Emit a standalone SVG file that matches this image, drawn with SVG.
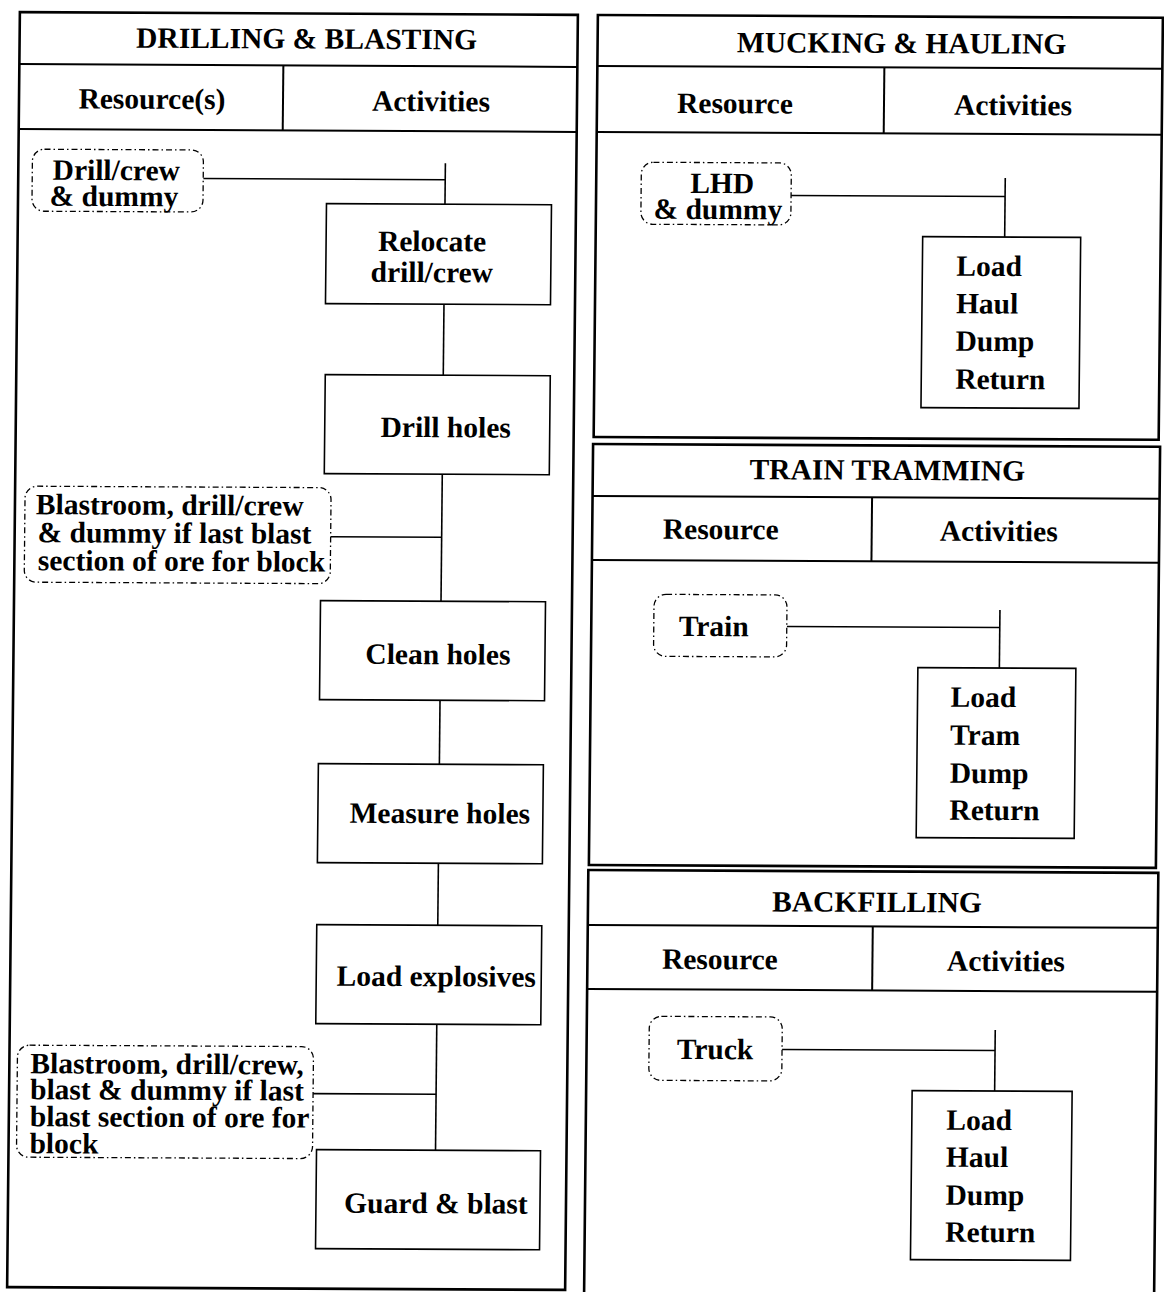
<svg xmlns="http://www.w3.org/2000/svg" width="1164" height="1292" viewBox="0 0 1164 1292">
  <style>
    .panel { fill: none; stroke: #000; stroke-width: 2.6; }
    .rule { fill: none; stroke: #000; stroke-width: 2; }
    .box { fill: #fff; stroke: #000; stroke-width: 1.6; }
    .res { fill: #fff; stroke: #000; stroke-width: 1.3; stroke-dasharray: 6 3 1.5 3; }
    .wire { fill: none; stroke: #000; stroke-width: 1.6; }
    text { font-family: "Liberation Serif", "Times New Roman", serif; font-weight: bold; font-size: 29.5px; fill: #000; }
    .c { text-anchor: middle; }
  </style>
  <rect width="1164" height="1292" fill="#fff"/>
  <!-- whole sheet sits slightly askew -->
  <g transform="matrix(1 0.005 -0.01 1 0 0)">

    <!-- ===== Drilling & blasting panel ===== -->
    <g id="panel-drilling">
      <rect class="panel" x="20" y="12" width="558" height="1275"/>
      <line class="rule" x1="20" y1="64" x2="578" y2="64"/>
      <line class="rule" x1="20" y1="129" x2="578" y2="129"/>
      <line class="rule" x1="284" y1="64" x2="284" y2="129"/>
      <text class="c" x="307" y="47">DRILLING &amp; BLASTING</text>
      <text class="c" x="153" y="108">Resource(s)</text>
      <text class="c" x="432" y="109">Activities</text>
    </g>

    <!-- ===== Mucking & hauling panel ===== -->
    <g id="panel-mucking">
      <rect class="panel" x="598" y="12" width="565" height="422"/>
      <line class="rule" x1="598" y1="63" x2="1163" y2="63"/>
      <line class="rule" x1="598" y1="129" x2="1163" y2="129"/>
      <line class="rule" x1="885" y1="63" x2="885" y2="129"/>
      <text class="c" x="902" y="48.5">MUCKING &amp; HAULING</text>
      <text class="c" x="736" y="109.5">Resource</text>
      <text class="c" x="1014" y="110">Activities</text>
    </g>

    <!-- ===== Train tramming panel ===== -->
    <g id="panel-tramming">
      <rect class="panel" x="597.5" y="441" width="567" height="421"/>
      <line class="rule" x1="597.5" y1="493" x2="1164.5" y2="493"/>
      <line class="rule" x1="597.5" y1="557" x2="1164.5" y2="557"/>
      <line class="rule" x1="877" y1="493" x2="877" y2="557"/>
      <text class="c" x="892" y="475.5">TRAIN TRAMMING</text>
      <text class="c" x="726" y="535.5">Resource</text>
      <text class="c" x="1004" y="536">Activities</text>
    </g>

    <!-- ===== Backfilling panel ===== -->
    <g id="panel-backfilling">
      <rect class="panel" x="597" y="867" width="570" height="460"/>
      <line class="rule" x1="597" y1="922" x2="1167" y2="922"/>
      <line class="rule" x1="597" y1="986" x2="1167" y2="986"/>
      <line class="rule" x1="882" y1="922" x2="882" y2="986"/>
      <text class="c" x="886" y="907.5">BACKFILLING</text>
      <text class="c" x="729.5" y="965.5">Resource</text>
      <text class="c" x="1015.5" y="966">Activities</text>
    </g>

    <!-- ===== Connectors ===== -->
    <g id="connectors">
      <!-- drilling chain -->
      <line class="wire" x1="205" y1="177.5" x2="447" y2="177.5"/>
      <line class="wire" x1="447" y1="161" x2="447" y2="202"/>
      <line class="wire" x1="447" y1="302" x2="447" y2="373"/>
      <line class="wire" x1="447" y1="472" x2="447" y2="599"/>
      <line class="wire" x1="336" y1="535" x2="447" y2="535"/>
      <line class="wire" x1="447" y1="698" x2="447" y2="762"/>
      <line class="wire" x1="447" y1="861" x2="447" y2="923"/>
      <line class="wire" x1="447" y1="1022" x2="447" y2="1148"/>
      <line class="wire" x1="324" y1="1092" x2="447" y2="1092"/>
      <!-- mucking -->
      <line class="wire" x1="793" y1="191.5" x2="1007" y2="191.5"/>
      <line class="wire" x1="1007" y1="173" x2="1007" y2="232"/>
      <!-- tramming -->
      <line class="wire" x1="793" y1="622.5" x2="1006" y2="622.5"/>
      <line class="wire" x1="1006" y1="605" x2="1006" y2="663"/>
      <!-- backfilling -->
      <line class="wire" x1="792.5" y1="1045.5" x2="1005.5" y2="1045.5"/>
      <line class="wire" x1="1005.5" y1="1025" x2="1005.5" y2="1086"/>
    </g>

    <!-- ===== Drilling & blasting nodes ===== -->
    <g id="res-drill-crew">
      <rect class="res" x="34" y="149" width="171" height="62" rx="12"/>
      <text class="c" x="118" y="179.5">Drill/crew</text>
      <text class="c" x="116" y="205.5">&amp; dummy</text>
    </g>
    <g id="act-relocate">
      <rect class="box" x="328.5" y="202" width="225" height="100"/>
      <text class="c" x="434.5" y="249">Relocate</text>
      <text class="c" x="434.5" y="280">drill/crew</text>
    </g>
    <g id="act-drill-holes">
      <rect class="box" x="329" y="373" width="225" height="99"/>
      <text class="c" x="450" y="435">Drill holes</text>
    </g>
    <g id="res-blastroom-1">
      <rect class="res" x="30" y="486" width="306" height="96" rx="12"/>
      <text x="41" y="514">Blastroom, drill/crew</text>
      <text x="43" y="542">&amp; dummy if last blast</text>
      <text x="43.5" y="570">section of ore for block</text>
    </g>
    <g id="act-clean-holes">
      <rect class="box" x="326.5" y="599" width="225" height="99"/>
      <text class="c" x="444.5" y="662">Clean holes</text>
    </g>
    <g id="act-measure-holes">
      <rect class="box" x="326" y="762" width="225" height="99"/>
      <text class="c" x="448" y="821">Measure holes</text>
    </g>
    <g id="act-load-explosives">
      <rect class="box" x="326" y="923" width="225" height="99"/>
      <text class="c" x="446" y="984">Load explosives</text>
    </g>
    <g id="res-blastroom-2">
      <rect class="res" x="28" y="1045" width="296" height="112" rx="12"/>
      <text x="41" y="1073">Blastroom, drill/crew,</text>
      <text x="41" y="1099">blast &amp; dummy if last</text>
      <text x="41" y="1126">blast section of ore for</text>
      <text x="41" y="1153">block</text>
    </g>
    <g id="act-guard-blast">
      <rect class="box" x="328" y="1148" width="224" height="99"/>
      <text class="c" x="448" y="1211">Guard &amp; blast</text>
    </g>

    <!-- ===== Mucking & hauling nodes ===== -->
    <g id="res-lhd">
      <rect class="res" x="643" y="159" width="150" height="62" rx="12"/>
      <text class="c" x="724" y="189.5">LHD</text>
      <text class="c" x="720" y="215.5">&amp; dummy</text>
    </g>
    <g id="act-lhd-cycle">
      <rect class="box" x="925" y="232" width="158" height="171"/>
      <text x="959" y="271">Load</text>
      <text x="959" y="308.5">Haul</text>
      <text x="959" y="346">Dump</text>
      <text x="959" y="384">Return</text>
    </g>

    <!-- ===== Train tramming nodes ===== -->
    <g id="res-train">
      <rect class="res" x="660" y="591" width="133" height="62" rx="12"/>
      <text class="c" x="720" y="632.5">Train</text>
    </g>
    <g id="act-train-cycle">
      <rect class="box" x="924.5" y="663" width="158" height="170"/>
      <text x="957.5" y="702">Load</text>
      <text x="957.5" y="740">Tram</text>
      <text x="957.5" y="778">Dump</text>
      <text x="957.5" y="815">Return</text>
    </g>

    <!-- ===== Backfilling nodes ===== -->
    <g id="res-truck">
      <rect class="res" x="659.5" y="1013" width="133" height="64" rx="12"/>
      <text class="c" x="725.5" y="1055.5">Truck</text>
    </g>
    <g id="act-truck-cycle">
      <rect class="box" x="923" y="1086" width="160" height="169"/>
      <text x="957.5" y="1125">Load</text>
      <text x="957.5" y="1162">Haul</text>
      <text x="957.5" y="1200">Dump</text>
      <text x="957.5" y="1237">Return</text>
    </g>
  </g>
</svg>
